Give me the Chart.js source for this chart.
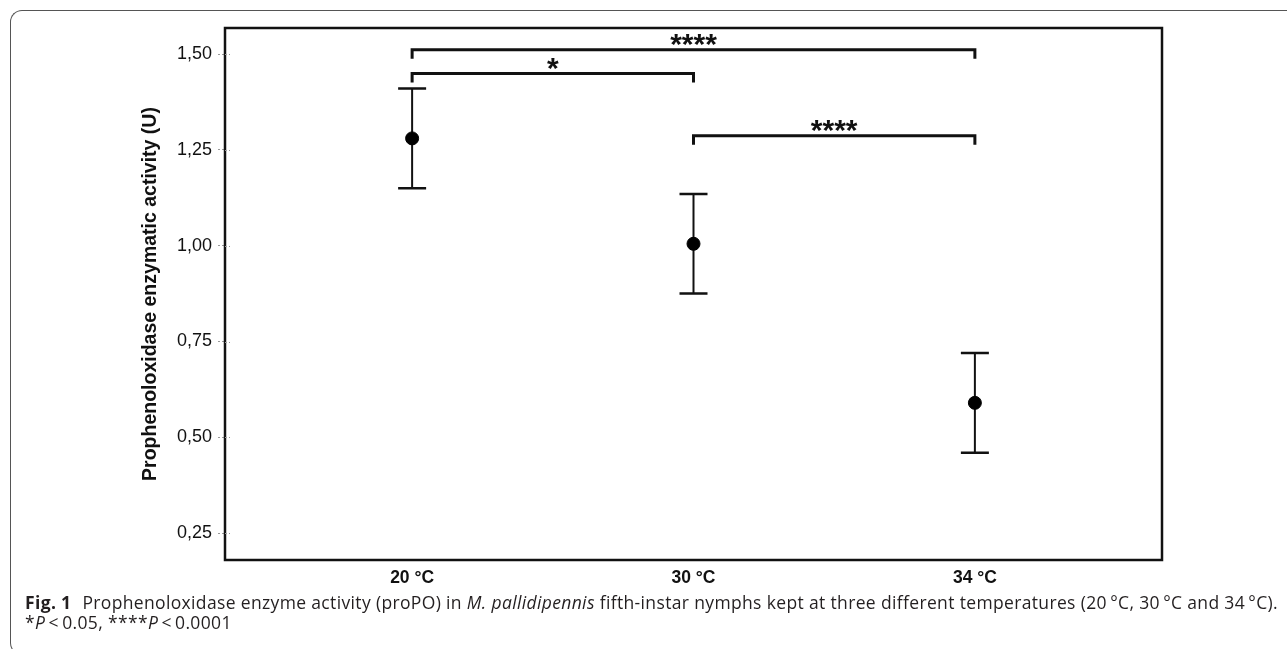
<!DOCTYPE html>
<html>
<head>
<meta charset="utf-8">
<script src="https://cdn.jsdelivr.net/npm/chart.js@4.4.0/dist/chart.umd.min.js"></script>
<style>
  html, body { margin: 0; padding: 0; background: #fff; }
  body { width: 1287px; height: 649px; position: relative; overflow: hidden; }
  #frame { position: absolute; left: 10px; top: 10px; width: 1320px; height: 643px;
           border-left: 1.5px solid #555; border-top: 1.5px solid #555; border-bottom: 1.5px solid #555;
           border-radius: 12px 0 0 12px; }
  #wrap { position: absolute; left: 0; top: 0; width: 1287px; height: 649px; }
  #caption { position: absolute; left: 25px; top: 592px; font-family: "Open Sans", sans-serif;
             font-size: 17.5px; line-height: 20px; color: #231f20; white-space: nowrap; }
  #caption b { margin-right: 6px; }
</style>
</head>
<body>
<div id="frame"></div>
<div id="wrap"><canvas id="chart"></canvas></div>
<div id="caption"><span id="line1"><b>Fig. 1</b> Prophenoloxidase enzyme activity (proPO) in <i>M. pallidipennis</i> fifth-instar nymphs kept at three different temperatures (20&thinsp;°C, 30&thinsp;°C and 34&thinsp;°C).</span><br>*<i>P</i>&thinsp;&lt;&thinsp;0.05, ****<i>P</i>&thinsp;&lt;&thinsp;0.0001</div>

<script>
// Données
const categories = ['20 °C', '30 °C', '34 °C'];
const means = [1.28, 1.005, 0.59];
const errors = [0.13, 0.13, 0.13];
const yTicks = [0.25, 0.50, 0.75, 1.00, 1.25, 1.50];
const yTickLabels = ['0,25', '0,50', '0,75', '1,00', '1,25', '1,50'];

// Comparaisons significatives
const pairsFrom = [0, 0, 1];
const pairsTo = [2, 1, 2];
const pairsStars = ['****', '*', '****'];
const pairsLevel = [1.511, 1.449, 1.287];

// Barres d'erreur
const errorBars = {
    id: 'errorBars',
    beforeDatasetsDraw(chart) {
        const { ctx, scales: { x, y } } = chart;
        ctx.save();
        ctx.strokeStyle = '#111';
        means.forEach((m, i) => {
            const px = x.getPixelForValue(i + 1);
            const top = y.getPixelForValue(m + errors[i]);
            const bot = y.getPixelForValue(m - errors[i]);
            ctx.lineWidth = 2;
            ctx.beginPath();
            ctx.moveTo(px, top);
            ctx.lineTo(px, bot);
            ctx.stroke();
            ctx.lineWidth = 2.5;
            ctx.beginPath();
            ctx.moveTo(px - 14, top); ctx.lineTo(px + 14, top);
            ctx.moveTo(px - 14, bot); ctx.lineTo(px + 14, bot);
            ctx.stroke();
        });
        ctx.restore();
    }
};

// Cadre + crochets de significativité
const extras = {
    id: 'extras',
    afterDraw(chart) {
        const { ctx, chartArea: a, scales: { x, y } } = chart;
        ctx.save();
        ctx.strokeStyle = '#111';
        ctx.lineWidth = 2.5;
        ctx.strokeRect(a.left, a.top, a.right - a.left, a.bottom - a.top);

        // petits traits gris des graduations, à cheval sur l'axe
        ctx.strokeStyle = '#999';
        ctx.lineWidth = 1;
        ctx.setLineDash([2, 2]);
        yTicks.forEach(v => {
            const py = Math.round(y.getPixelForValue(v)) + 0.5;
            ctx.beginPath();
            ctx.moveTo(a.left, py);
            ctx.lineTo(a.left + 5, py);
            ctx.stroke();
        });
        ctx.setLineDash([]);

        ctx.strokeStyle = '#111';
        ctx.lineWidth = 3;
        ctx.fillStyle = '#111';
        ctx.font = 'bold 30px "Liberation Sans", Arial';
        ctx.textAlign = 'center';
        ctx.textBaseline = 'alphabetic';
        pairsFrom.forEach((f, k) => {
            const x1 = x.getPixelForValue(f + 1);
            const x2 = x.getPixelForValue(pairsTo[k] + 1);
            const py = y.getPixelForValue(pairsLevel[k]);
            ctx.beginPath();
            ctx.moveTo(x1, py + 9);
            ctx.lineTo(x1, py);
            ctx.lineTo(x2, py);
            ctx.lineTo(x2, py + 9);
            ctx.stroke();
            ctx.fillText(pairsStars[k], (x1 + x2) / 2, py + 4);
        });
        ctx.restore();
    }
};

// Ajuste la légende à la largeur de la figure
function fitCaption() {
    const line = document.getElementById('line1');
    const w = line.getBoundingClientRect().width;
    const ls = (1253 - w) / line.textContent.length;
    document.getElementById('caption').style.letterSpacing = ls + 'px';
}

function initChart() {
    const ctx = document.getElementById('chart').getContext('2d');
    new Chart(ctx, {
        type: 'scatter',
        data: {
            datasets: [{
                data: means.map((m, i) => ({ x: i + 1, y: m })),
                backgroundColor: '#000',
                borderColor: '#000',
                pointRadius: 6.5,
                pointHoverRadius: 6.5
            }]
        },
        options: {
            responsive: true,
            maintainAspectRatio: false,
            animation: false,
            layout: { padding: { left: 0, top: 28, right: 125, bottom: 49 } },
            plugins: {
                legend: { display: false },
                tooltip: { enabled: false }
            },
            scales: {
                x: {
                    type: 'linear',
                    min: 0.335,
                    max: 3.665,
                    afterBuildTicks: s => { s.ticks = categories.map((c, i) => ({ value: i + 1 })); },
                    afterFit: s => { s.height = 40; },
                    grid: { display: false, drawTicks: false },
                    border: { display: false },
                    ticks: {
                        callback: v => categories[v - 1],
                        autoSkip: false,
                        maxRotation: 0,
                        padding: 8,
                        color: '#111',
                        font: { family: '"Liberation Sans", Arial', size: 17.5, weight: 'bold' }
                    }
                },
                y: {
                    min: 0.18,
                    max: 1.568,
                    afterBuildTicks: s => { s.ticks = yTicks.map(v => ({ value: v })); },
                    afterFit: s => { s.width = 225; },
                    grid: {
                        drawOnChartArea: false,
                        tickLength: 7,
                        tickColor: '#999',
                        tickWidth: 1,
                        tickBorderDash: [2, 2]
                    },
                    border: { display: false },
                    ticks: {
                        callback: (v, i) => yTickLabels[i],
                        padding: 6,
                        color: '#111',
                        font: { family: '"Liberation Sans", Arial', size: 18 }
                    },
                    title: {
                        display: true,
                        text: 'Prophenoloxidase enzymatic activity (U)',
                        color: '#111',
                        padding: { top: 139, bottom: 0 },
                        font: { family: '"Liberation Sans", Arial', size: 19.5, weight: 'bold' }
                    }
                }
            }
        },
        plugins: [errorBars, extras]
    });
}

document.addEventListener('DOMContentLoaded', () => {
    fitCaption();
    initChart();
});
</script>
</body>
</html>
